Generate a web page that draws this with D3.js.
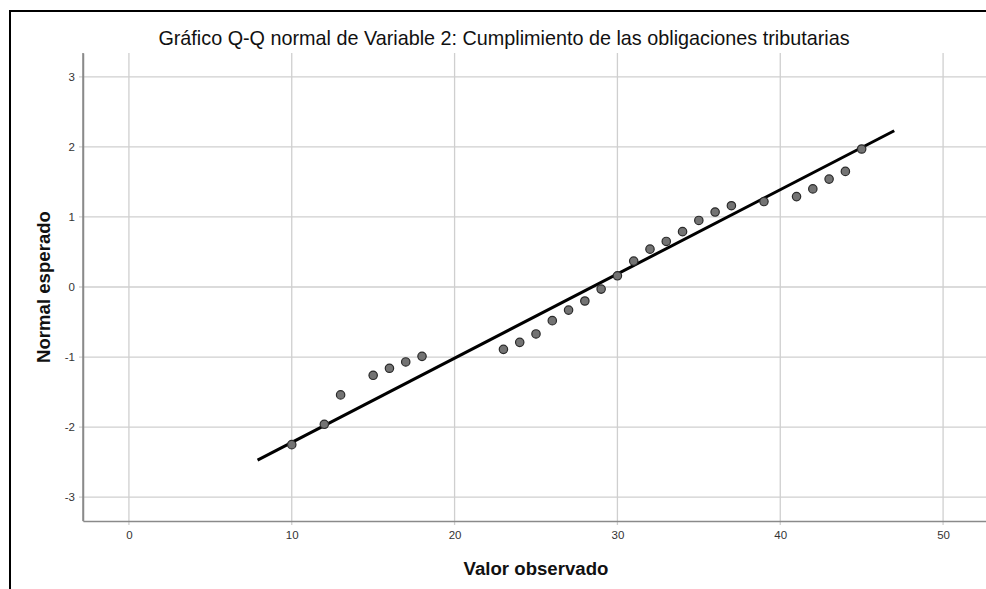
<!DOCTYPE html>
<html>
<head>
<meta charset="utf-8">
<script src="https://cdn.jsdelivr.net/npm/d3@7"></script>
<style>
  body { margin: 0; background: #fff; }
  svg { display: block; }
</style>
</head>
<body>
<svg id="chart" width="986" height="589"></svg>
<script>
    var observed = [10, 12, 13, 15, 16, 17, 18, 23, 24, 25, 26, 27, 28, 29, 30,
        31, 32, 33, 34, 35, 36, 37, 39, 41, 42, 43, 44, 45];
    var expected = [-2.25, -1.96, -1.54, -1.26, -1.16, -1.07, -0.99, -0.89, -0.79, -0.67,
        -0.48, -0.33, -0.20, -0.03, 0.16, 0.37, 0.54, 0.65, 0.79, 0.95, 1.07, 1.16,
        1.22, 1.29, 1.40, 1.54, 1.65, 1.97];
    // recta de referencia
    var lineX = [7.9, 47.0];
    var lineY = [-2.47, 2.23];
    var xTicks = [0, 10, 20, 30, 40, 50];
    var yTicks = [-3, -2, -1, 0, 1, 2, 3];

    var titleText = "Gráfico Q-Q normal de Variable 2: Cumplimiento de las obligaciones tributarias";
    var font = "Liberation Sans, Arial, sans-serif";

    var svg = d3.select("#chart");

    // marco
    svg.append("rect")
        .attr("x", 10).attr("y", 11)
        .attr("width", 1100).attr("height", 700)
        .attr("fill", "none")
        .attr("stroke", "#000")
        .attr("stroke-width", 2);

    var pLeft = 83, pRight = 989, pTop = 53, pBottom = 521;

    var x = d3.scaleLinear().domain([-2.82, 52.82]).range([pLeft, pRight]);
    var y = d3.scaleLinear().domain([-3.34, 3.34]).range([pBottom, pTop]);

    // rejilla
    svg.append("g").selectAll("line")
        .data(yTicks).enter().append("line")
        .attr("x1", pLeft - 4).attr("x2", pRight)
        .attr("y1", function (d) { return y(d); })
        .attr("y2", function (d) { return y(d); })
        .attr("stroke", "#cfcfcf").attr("stroke-width", 1.3);

    svg.append("g").selectAll("line")
        .data(xTicks).enter().append("line")
        .attr("y1", pTop).attr("y2", pBottom + 4)
        .attr("x1", function (d) { return x(d); })
        .attr("x2", function (d) { return x(d); })
        .attr("stroke", "#cfcfcf").attr("stroke-width", 1.3);

    // ejes
    var plain = function (d) { return String(d); };
    var xAxis = svg.append("g")
        .attr("transform", "translate(0," + pBottom + ")")
        .call(d3.axisBottom(x).tickValues(xTicks).tickFormat(plain).tickSize(0).tickPadding(10));
    var yAxis = svg.append("g")
        .attr("transform", "translate(" + pLeft + ",0)")
        .call(d3.axisLeft(y).tickValues(yTicks).tickFormat(plain).tickSize(0).tickPadding(8));

    // el eje y arranca en pTop
    svg.append("line")
        .attr("x1", pLeft).attr("x2", pLeft)
        .attr("y1", pTop).attr("y2", pBottom)
        .attr("stroke", "#8a8a8a").attr("stroke-width", 1.5);

    [xAxis, yAxis].forEach(function (a) {
        a.select(".domain").attr("stroke", "#8a8a8a").attr("stroke-width", 1.5);
        a.selectAll("text")
            .attr("font-family", font)
            .attr("font-size", "11.5px")
            .attr("fill", "#333");
    });

    // recta
    svg.append("line")
        .attr("x1", x(lineX[0])).attr("y1", y(lineY[0]))
        .attr("x2", x(lineX[1])).attr("y2", y(lineY[1]))
        .attr("stroke", "#000")
        .attr("stroke-width", 3);

    // puntos
    svg.append("g").selectAll("circle")
        .data(observed).enter().append("circle")
        .attr("cx", function (d) { return x(d); })
        .attr("cy", function (d, i) { return y(expected[i]); })
        .attr("r", 4.2)
        .attr("fill", "#737373")
        .attr("stroke", "#2a2a2a")
        .attr("stroke-width", 1.2);

    // ajusta el tamano de letra a un ancho dado
    function fitText(sel, width) {
        var fs = parseFloat(sel.attr("font-size"));
        var w = sel.node().getComputedTextLength();
        sel.attr("font-size", (fs * width / w).toFixed(2) + "px");
    }

    // textos
    var title = svg.append("text")
        .attr("x", 504).attr("y", 45)
        .attr("text-anchor", "middle")
        .attr("font-family", font)
        .attr("font-size", "16px")
        .attr("fill", "#111")
        .text(titleText);
    fitText(title, 692);

    var xl = svg.append("text")
        .attr("x", 536).attr("y", 575)
        .attr("text-anchor", "middle")
        .attr("font-family", font)
        .attr("font-size", "16px")
        .attr("font-weight", "bold")
        .attr("fill", "#111")
        .text("Valor observado");
    fitText(xl, 145);

    var yl = svg.append("text")
        .attr("transform", "translate(50," + y(0) + ") rotate(-90)")
        .attr("text-anchor", "middle")
        .attr("font-family", font)
        .attr("font-size", "16px")
        .attr("font-weight", "bold")
        .attr("fill", "#111")
        .text("Normal esperado");
    fitText(yl, 152);
</script>
</body>
</html>
